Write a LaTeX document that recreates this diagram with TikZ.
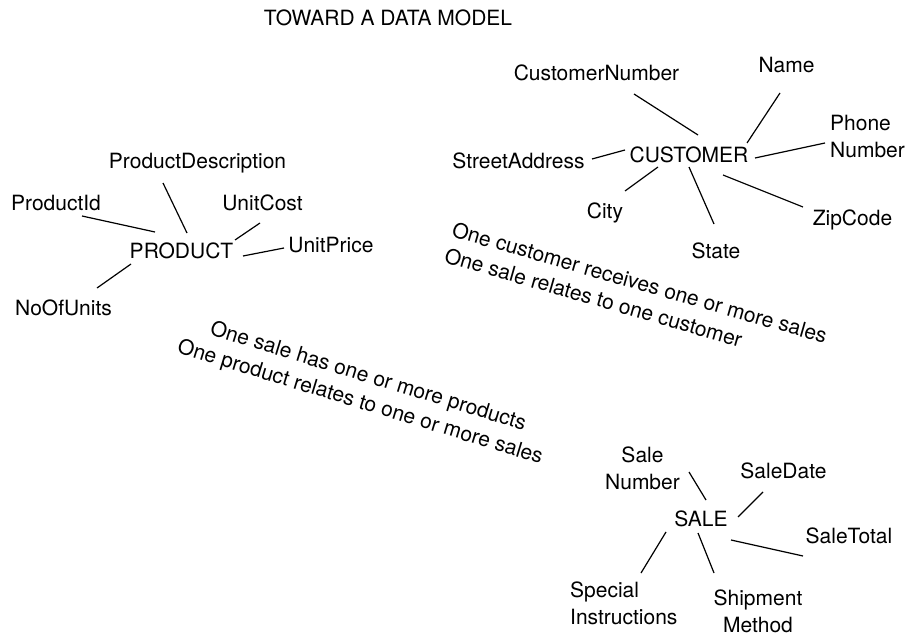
\documentclass[tikz,border=0pt]{standalone}
\usepackage{fontspec}
\setmainfont{TeX Gyre Heros}
\begin{document}
\begin{tikzpicture}[x=1pt,y=-1pt,
  lbl/.style={font=\fontsize{21}{27}\selectfont, inner sep=0pt, anchor=north},
  rel/.style={font=\fontsize{21}{27}\selectfont, inner sep=0pt, anchor=center},
  link/.style={line width=1.2pt, black}]
\useasboundingbox (0,0) rectangle (906,634);

% title
\node[lbl] (title) at (388,10) {TOWARD A DATA MODEL};

% PRODUCT entity
\node[lbl] (product) at (181.5,243) {PRODUCT};
\node[lbl] (pdesc) at (197.5,153) {ProductDescription};
\node[lbl] (pid) at (56,195) {ProductId};
\node[lbl] (ucost) at (262.5,195) {UnitCost};
\node[lbl] (uprice) at (331,237) {UnitPrice};
\node[lbl] (nunits) at (63.5,300) {NoOfUnits};

\coordinate (p1a) at (82,216);  \coordinate (p1b) at (155,232);
\coordinate (p2a) at (163,183); \coordinate (p2b) at (187,233);
\coordinate (p3a) at (235,240); \coordinate (p3b) at (260,223);
\coordinate (p4a) at (243,256); \coordinate (p4b) at (284,248);
\coordinate (p5a) at (97,288);  \coordinate (p5b) at (131,264);
\draw[link] (p1a) -- (p1b);
\draw[link] (p2a) -- (p2b);
\draw[link] (p3a) -- (p3b);
\draw[link] (p4a) -- (p4b);
\draw[link] (p5a) -- (p5b);

% CUSTOMER entity
\node[lbl] (customer) at (689,147) {CUSTOMER};
\node[lbl] (cnum) at (596.5,65) {CustomerNumber};
\node[lbl] (cname) at (786.5,57) {Name};
\node[lbl, anchor=north west, align=left] (phone) at (830,115) {Phone\\Number};
\node[lbl] (street) at (518.5,153) {StreetAddress};
\node[lbl] (city) at (605,203) {City};
\node[lbl] (state) at (716,243) {State};
\node[lbl] (zip) at (852.5,210) {ZipCode};

\coordinate (c1a) at (634,94);  \coordinate (c1b) at (698,135);
\coordinate (c2a) at (780,93);  \coordinate (c2b) at (747,143);
\coordinate (c3a) at (755,158); \coordinate (c3b) at (825,143);
\coordinate (c4a) at (592,159); \coordinate (c4b) at (625,150);
\coordinate (c5a) at (625,191); \coordinate (c5b) at (658,167);
\coordinate (c6a) at (689,167); \coordinate (c6b) at (714,224);
\coordinate (c7a) at (723,175); \coordinate (c7b) at (803,207);
\draw[link] (c1a) -- (c1b);
\draw[link] (c2a) -- (c2b);
\draw[link] (c3a) -- (c3b);
\draw[link] (c4a) -- (c4b);
\draw[link] (c5a) -- (c5b);
\draw[link] (c6a) -- (c6b);
\draw[link] (c7a) -- (c7b);

% SALE entity
\node[lbl] (sale) at (701,511) {SALE};
\node[lbl, align=center] (snum) at (642.5,447) {Sale\\Number};
\node[lbl] (sdate) at (783.5,463) {SaleDate};
\node[lbl] (stotal) at (849,528) {SaleTotal};
\node[lbl, anchor=north west, align=left] (special) at (570,582) {Special\\Instructions};
\node[lbl, align=center] (ship) at (758,590) {Shipment\\Method};

\coordinate (s1a) at (689,472); \coordinate (s1b) at (706,500);
\coordinate (s2a) at (738,517); \coordinate (s2b) at (763,492);
\coordinate (s3a) at (731,540); \coordinate (s3b) at (803,556);
\coordinate (s4a) at (666,532); \coordinate (s4b) at (641,573);
\coordinate (s5a) at (698,533); \coordinate (s5b) at (714,573);
\draw[link] (s1a) -- (s1b);
\draw[link] (s2a) -- (s2b);
\draw[link] (s3a) -- (s3b);
\draw[link] (s4a) -- (s4b);
\draw[link] (s5a) -- (s5b);

% relationship statements
\node[rel, rotate=-16, align=left] (rcs) at (636,295.5)
  {One customer receives one or more sales\\One sale relates to one customer};
\node[rel, rotate=-17, align=center] (rsp) at (364,390)
  {One sale has one or more products\\One product relates to one or more sales};
\end{tikzpicture}
\end{document}
